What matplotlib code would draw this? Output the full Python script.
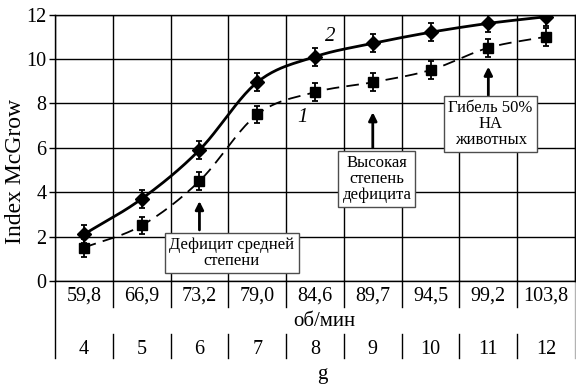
import matplotlib.pyplot as plt
import numpy as np
from matplotlib.transforms import blended_transform_factory

plt.rcParams['font.family'] = ['Liberation Serif', 'DejaVu Serif']

# data
rpm = ['59,8', '66,9', '73,2', '79,0', '84,6', '89,7', '94,5', '99,2', '103,8']
g_vals = ['4', '5', '6', '7', '8', '9', '10', '11', '12']
idx2 = [2.1, 3.7, 5.9, 8.95, 10.1, 10.7, 11.2, 11.6, 11.9]
idx1 = [1.5, 2.5, 4.5, 7.5, 8.5, 8.95, 9.5, 10.5, 11.0]
err2 = [0.4, 0.4, 0.4, 0.4, 0.4, 0.4, 0.4, 0.4, 0.4]
err1 = [0.4, 0.4, 0.4, 0.4, 0.4, 0.4, 0.4, 0.4, 0.4]


def smooth(x, y, n=25):
    # catmull-rom curve through the points
    x = np.asarray(x, float)
    y = np.asarray(y, float)
    px = np.concatenate([[2 * x[0] - x[1]], x, [2 * x[-1] - x[-2]]])
    py = np.concatenate([[2 * y[0] - y[1]], y, [2 * y[-1] - y[-2]]])
    t = np.linspace(0, 1, n)
    xs, ys = [], []
    for i in range(1, len(px) - 2):
        for p, out in ((px, xs), (py, ys)):
            p0, p1, p2, p3 = p[i - 1], p[i], p[i + 1], p[i + 2]
            out.append(0.5 * (2 * p1 + (-p0 + p2) * t
                              + (2 * p0 - 5 * p1 + 4 * p2 - p3) * t ** 2
                              + (-p0 + 3 * p1 - 3 * p2 + p3) * t ** 3))
    return np.concatenate(xs), np.concatenate(ys)


W, H = 576, 389
fig = plt.figure(figsize=(W / 100, H / 100), dpi=100)
ax = fig.add_axes([55 / W, 1 - 281 / H, 520 / W, 266.5 / H])

x = np.arange(len(rpm)) + 0.5

sx, sy = smooth(x, idx2)
ax.plot(sx, sy, color='k', lw=2, zorder=3)
ax.errorbar(x, idx2, yerr=err2, fmt='D', color='k', ms=7.5, capsize=2.5,
            elinewidth=1.3, capthick=1.3, zorder=4)

sx, sy = smooth(x, idx1)
ax.plot(sx, sy, color='k', lw=1.3, dashes=(7, 4), zorder=3)
ax.errorbar(x, idx1, yerr=err1, fmt='s', color='k', ms=7.5, capsize=2.5,
            elinewidth=1.3, capthick=1.3, zorder=4)

ax.set_xlim(0, 9)
ax.set_ylim(0, 12)
ax.set_xticks(range(10))
ax.set_xticklabels([])
ax.set_yticks(range(0, 13, 2))
ax.tick_params(axis='x', length=0)
ax.tick_params(axis='y', direction='out', length=4, width=1, labelsize=14.5, pad=2)
ax.grid(color='k', lw=1)
ax.set_axisbelow(True)
for s in ax.spines.values():
    s.set_linewidth(1)

# table under the axis
fy = lambda p: 1 - p / H
tr = blended_transform_factory(ax.transData, fig.transFigure)
for i in range(len(rpm)):
    ax.text(i + 0.5, fy(296), rpm[i], transform=tr, ha='center', va='center', fontsize=14.5)
    ax.text(i + 0.5, fy(350), g_vals[i], transform=tr, ha='center', va='center', fontsize=14.5)
for k in range(1, 9):
    ax.plot([k, k], [fy(281), fy(307)], transform=tr, color='k', lw=1, clip_on=False)
    ax.plot([k, k], [fy(334), fy(358)], transform=tr, color='k', lw=1, clip_on=False)
ax.plot([0, 0], [fy(281), fy(358)], transform=tr, color='k', lw=1, clip_on=False)
ax.plot([9, 9], [fy(281), fy(358)], transform=tr, color='0.7', lw=1, clip_on=False)

fig.text(324 / W, fy(322), 'об/мин', ha='center', va='center', fontsize=15)
fig.text(322 / W, fy(374), 'g', ha='center', va='center', fontsize=15)
fig.text(16 / W, fy(171), 'Index McGrow', rotation=90, ha='center', va='center', fontsize=17)

# arrows and notes
arr = dict(arrowstyle='-|>', lw=2, color='k', mutation_scale=12, shrinkA=0, shrinkB=0)
ax.annotate('', xy=(2.5, 3.6), xytext=(2.5, 2.3), arrowprops=arr, zorder=5)
ax.annotate('', xy=(5.5, 7.6), xytext=(5.5, 6.0), arrowprops=arr, zorder=5)
ax.annotate('', xy=(7.5, 9.65), xytext=(7.5, 8.35), arrowprops=arr, zorder=5)

box = dict(boxstyle='square,pad=0.25', fc='white', ec='0.3', lw=1)
ax.text(3.06, 1.26, 'Дефицит средней\nстепени', ha='center', va='center',
        fontsize=12, linespacing=1.0, bbox=box, zorder=6)
ax.text(5.57, 4.6, 'Высокая\nстепень\nдефицита', ha='center', va='center',
        fontsize=12, linespacing=1.0, bbox=box, zorder=6)
ax.text(7.54, 7.07, 'Гибель 50%\nНА\nживотных', ha='center', va='center',
        fontsize=12, linespacing=1.0, bbox=box, zorder=6)

ax.text(4.76, 11.0, '2', style='italic', fontsize=15, ha='center', va='center')
ax.text(4.29, 7.38, '1', style='italic', fontsize=15, ha='center', va='center')

fig.savefig('out.png', dpi=100)
